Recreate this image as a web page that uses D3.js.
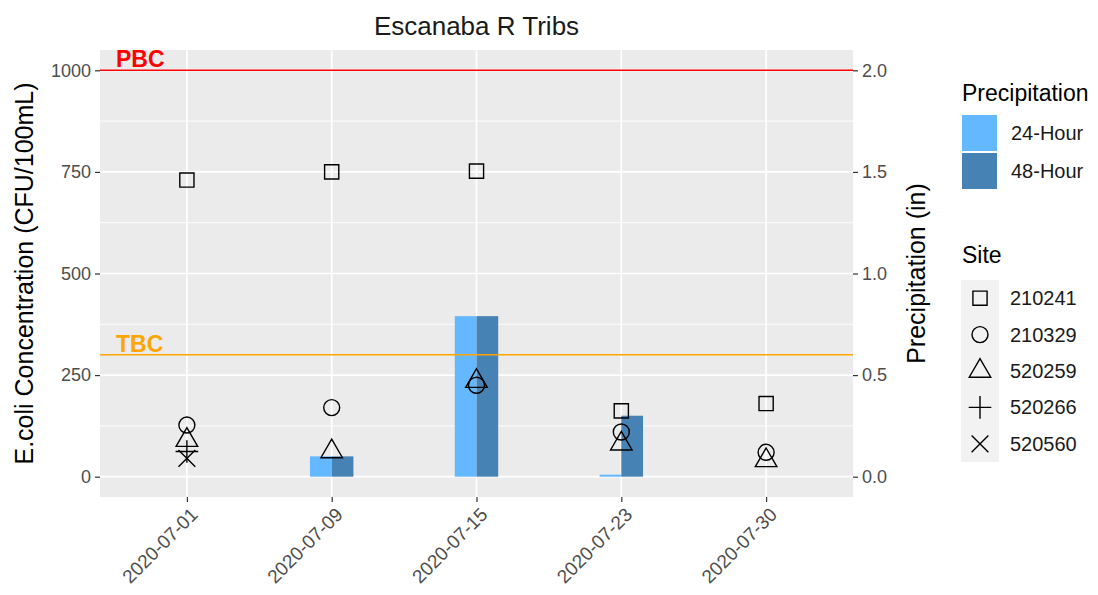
<!DOCTYPE html>
<html>
<head>
<meta charset="utf-8">
<script src="https://cdn.jsdelivr.net/npm/d3@7"></script>
<style>
  body { margin: 0; background: #fff; }
  svg { font-family: "Liberation Sans", Arial, sans-serif; }
</style>
</head>
<body>
<svg id="chart" width="1098" height="595"></svg>
<script>
// data
const dates = ["2020-07-01", "2020-07-09", "2020-07-15", "2020-07-23", "2020-07-30"];
const precip24 = [0, 0.10, 0.79, 0.01, 0];
const precip48 = [0, 0.10, 0.79, 0.30, 0];
const sites = ["210241", "210329", "520259", "520266", "520560"];
const siteShapes = ["square", "circle", "triangle", "plus", "cross"];
const ecoli = {
    "210241": [730, 750, 752, 162, 180],
    "210329": [127, 170, 225, 110, 60],
    "520259": [90, 62, 235, 81, 40],
    "520266": [62, null, null, null, null],
    "520560": [45, null, null, null, null],
};
const yTicks = [0, 250, 500, 750, 1000];
const yMinor = [125, 375, 625, 875];
const precipTicks = [0, 0.5, 1.0, 1.5, 2.0];
const thresholds = [{ label: "PBC", value: 1000, color: "red" },
                    { label: "TBC", value: 300, color: "orange" }];

const svg = d3.select("#chart");
const panel = { left: 100, right: 853, top: 50, bottom: 497 };

const x = d3.scalePoint().domain(dates).range([panel.left, panel.right]).padding(0.6);
const y = d3.scaleLinear().domain([-50, 1050]).range([panel.bottom, panel.top]);
const yP = d3.scaleLinear().domain([-0.1, 2.1]).range([panel.bottom, panel.top]);
const unit = x.step();
const barW = unit * 0.15;

// panel background + grid
svg.append("rect")
    .attr("x", panel.left).attr("y", panel.top)
    .attr("width", panel.right - panel.left).attr("height", panel.bottom - panel.top)
    .attr("fill", "#EBEBEB");

svg.append("g").selectAll("line").data(yMinor).join("line")
    .attr("x1", panel.left).attr("x2", panel.right)
    .attr("y1", d => y(d)).attr("y2", d => y(d))
    .attr("stroke", "#fff").attr("stroke-width", 0.9);
svg.append("g").selectAll("line").data(yTicks).join("line")
    .attr("x1", panel.left).attr("x2", panel.right)
    .attr("y1", d => y(d)).attr("y2", d => y(d))
    .attr("stroke", "#fff").attr("stroke-width", 1.7);
svg.append("g").selectAll("line").data(dates).join("line")
    .attr("x1", d => x(d)).attr("x2", d => x(d))
    .attr("y1", panel.top).attr("y2", panel.bottom)
    .attr("stroke", "#fff").attr("stroke-width", 1.7);

// precipitation bars (secondary axis)
const bars = [];
dates.forEach((d, i) => {
    bars.push({ date: d, kind: "24", v: precip24[i] });
    bars.push({ date: d, kind: "48", v: precip48[i] });
});
svg.append("g").selectAll("rect").data(bars.filter(b => b.v > 0)).join("rect")
    .attr("x", b => b.kind === "24" ? x(b.date) - barW : x(b.date))
    .attr("width", barW)
    .attr("y", b => yP(b.v))
    .attr("height", b => yP(0) - yP(b.v))
    .attr("fill", b => b.kind === "24" ? "#63B8FF" : "#4682B4");

// threshold lines + labels
svg.append("g").selectAll("line").data(thresholds).join("line")
    .attr("x1", panel.left).attr("x2", panel.right)
    .attr("y1", d => y(d.value)).attr("y2", d => y(d.value))
    .attr("stroke", d => d.color).attr("stroke-width", 1.6);
svg.append("g").selectAll("text").data(thresholds).join("text")
    .attr("x", 116).attr("y", d => y(d.value) - 3)
    .attr("fill", d => d.color)
    .attr("font-weight", "bold").attr("font-size", 23)
    .text(d => d.label);

// R-like point shapes
function shapePath(type, r) {
    const p = d3.path();
    if (type === "square") {
        const s = r * 0.886;
        p.rect(-s, -s, 2 * s, 2 * s);
    } else if (type === "circle") {
        p.moveTo(r, 0); p.arc(0, 0, r, 0, 2 * Math.PI);
    } else if (type === "triangle") {
        const a = 1.5551 * r, xc = 1.3468 * r, yc = 0.7776 * r;
        p.moveTo(0, -a); p.lineTo(xc, yc); p.lineTo(-xc, yc); p.closePath();
    } else if (type === "plus") {
        const c = Math.SQRT2 * r;
        p.moveTo(-c, 0); p.lineTo(c, 0); p.moveTo(0, -c); p.lineTo(0, c);
    } else {
        const c = r * 1.05;
        p.moveTo(-c, -c); p.lineTo(c, c); p.moveTo(-c, c); p.lineTo(c, -c);
    }
    return p.toString();
}
const R = 8;

const pts = [];
sites.forEach((s, si) => {
    ecoli[s].forEach((v, i) => {
        if (v !== null) pts.push({ date: dates[i], v: v, shape: siteShapes[si] });
    });
});
svg.append("g").selectAll("path").data(pts).join("path")
    .attr("transform", d => `translate(${x(d.date)},${y(d.v)})`)
    .attr("d", d => shapePath(d.shape, R))
    .attr("fill", "none").attr("stroke", "#000").attr("stroke-width", 1.4);

// axes
const yAxis = svg.append("g")
    .attr("transform", `translate(${panel.left},0)`)
    .call(d3.axisLeft(y).tickValues(yTicks).tickFormat(d3.format("d")).tickSize(5).tickPadding(4));
const yAxisR = svg.append("g")
    .attr("transform", `translate(${panel.right},0)`)
    .call(d3.axisRight(yP).tickValues(precipTicks).tickFormat(d3.format(".1f")).tickSize(5).tickPadding(4));
const xAxis = svg.append("g")
    .attr("transform", `translate(0,${panel.bottom})`)
    .call(d3.axisBottom(x).tickSize(5).tickPadding(4));

[yAxis, yAxisR, xAxis].forEach(g => {
    g.select(".domain").remove();
    g.selectAll(".tick line").attr("stroke", "#333").attr("stroke-width", 1.2);
    g.selectAll(".tick text").attr("fill", "#4D4D4D").attr("font-size", 18)
        .attr("font-family", "'Liberation Sans', Arial, sans-serif");
});
xAxis.selectAll(".tick text")
    .attr("font-size", 19)
    .attr("text-anchor", "end")
    .attr("dy", "0.72em")
    .attr("y", 0)
    .attr("transform", "translate(2,9) rotate(-45)");

// titles
svg.append("text")
    .attr("x", (panel.left + panel.right) / 2).attr("y", 35)
    .attr("text-anchor", "middle").attr("font-size", 26).attr("fill", "#1a1a1a")
    .text("Escanaba R Tribs");
svg.append("text")
    .attr("transform", `translate(33,${(panel.top + panel.bottom) / 2}) rotate(-90)`)
    .attr("text-anchor", "middle").attr("font-size", 25).attr("fill", "#000")
    .text("E.coli Concentration (CFU/100mL)");
svg.append("text")
    .attr("transform", `translate(925,${(panel.top + panel.bottom) / 2}) rotate(-90)`)
    .attr("text-anchor", "middle").attr("font-size", 25).attr("fill", "#000")
    .text("Precipitation (in)");

// legend: precipitation
const legP = svg.append("g");
legP.append("text").attr("x", 962).attr("y", 101).attr("font-size", 23).text("Precipitation");
const precipKeys = [{ label: "24-Hour", color: "#63B8FF" }, { label: "48-Hour", color: "#4682B4" }];
precipKeys.forEach((k, i) => {
    legP.append("rect").attr("x", 962).attr("y", 115 + i * 38)
        .attr("width", 35).attr("height", 36).attr("fill", k.color);
    legP.append("text").attr("x", 1011).attr("y", 133 + i * 38).attr("dy", "0.35em")
        .attr("font-size", 20).attr("fill", "#1a1a1a").text(k.label);
});

// legend: site
const legS = svg.append("g");
legS.append("text").attr("x", 962).attr("y", 263).attr("font-size", 23).text("Site");
const rowH = 36.4;
legS.append("rect").attr("x", 961).attr("y", 280).attr("width", 38).attr("height", rowH * 5)
    .attr("fill", "#F2F2F2");
sites.forEach((s, i) => {
    const cy = 280 + rowH * (i + 0.5);
    legS.append("path")
        .attr("transform", `translate(980,${cy})`)
        .attr("d", shapePath(siteShapes[i], R))
        .attr("fill", "none").attr("stroke", "#000").attr("stroke-width", 1.4);
    legS.append("text").attr("x", 1010).attr("y", cy).attr("dy", "0.35em")
        .attr("font-size", 20).attr("fill", "#1a1a1a").text(s);
});
</script>
</body>
</html>
